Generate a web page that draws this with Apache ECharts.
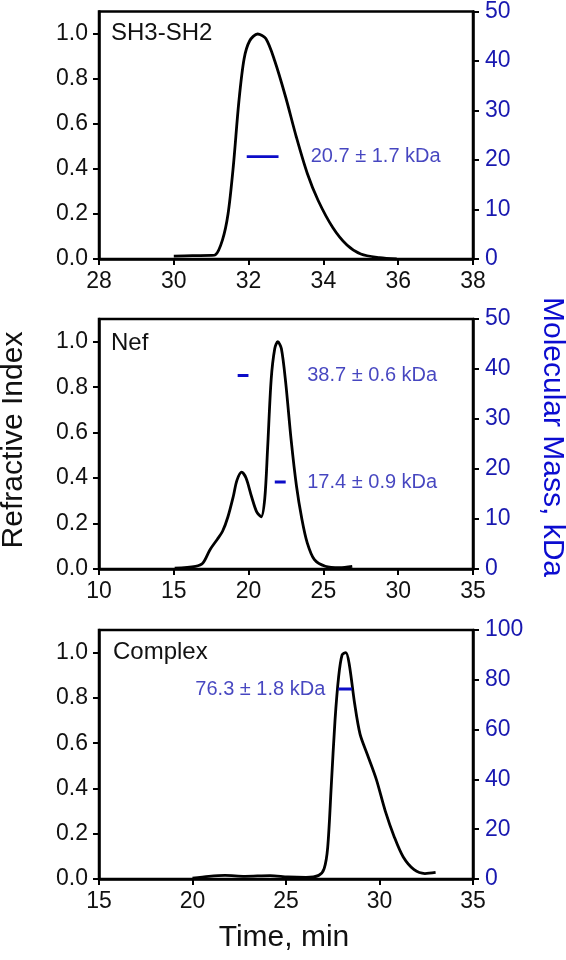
<!DOCTYPE html>
<html>
<head>
<meta charset="utf-8">
<script src="https://cdn.jsdelivr.net/npm/echarts@6/dist/echarts.min.js"></script>
<style>
html,body{margin:0;padding:0;background:#fff;}
#chart{width:566px;height:960px;}
</style>
</head>
<body>
<div id="chart"></div>
<script>
// ---- data ----
const sh3Time = [30.0, 30.5, 31.0, 31.11, 31.3, 31.45, 31.59, 31.74, 31.88, 32.03, 32.24, 32.46, 32.7, 32.99, 33.28, 33.57, 33.86, 34.25, 34.63, 35.0, 35.5, 35.96];
const sh3RI   = [0.013, 0.015, 0.016, 0.018, 0.084, 0.20, 0.41, 0.70, 0.89, 0.97, 1.0, 0.98, 0.88, 0.72, 0.54, 0.38, 0.26, 0.14, 0.062, 0.022, 0.006, 0.0];

const nefTime = [15.06, 16.45, 16.94, 17.42, 17.9, 18.26, 18.62, 18.98, 19.22, 19.54, 19.83, 20.19, 20.55, 20.84, 21.08, 21.27, 21.51, 21.75, 21.95, 22.19, 22.48, 22.84, 23.2, 23.56, 23.92, 24.4, 25.13, 26.09, 26.93];
const nefRI   = [0.004, 0.012, 0.026, 0.085, 0.13, 0.166, 0.23, 0.32, 0.39, 0.426, 0.40, 0.32, 0.25, 0.23, 0.31, 0.53, 0.835, 0.97, 1.0, 0.97, 0.82, 0.57, 0.365, 0.22, 0.115, 0.041, 0.012, 0.006, 0.012];

const cxTime = [20.0, 20.87, 21.74, 22.8, 24.15, 25.1, 26.07, 26.75, 27.04, 27.23, 27.42, 27.62, 27.81, 28.0, 28.2, 28.38, 28.67, 28.96, 29.35, 29.83, 30.31, 30.79, 31.27, 31.85, 32.43, 33.0];
const cxRI   = [0.004, 0.012, 0.016, 0.012, 0.015, 0.009, 0.007, 0.016, 0.046, 0.14, 0.41, 0.70, 0.89, 0.99, 1.0, 0.95, 0.775, 0.64, 0.55, 0.44, 0.30, 0.186, 0.097, 0.041, 0.024, 0.029];

// molecular mass bars: [tStart, tEnd], mass (kDa)
const sh3MassTime = [31.95, 32.8];   const sh3Mass = 20.7;
const nefMass1Time = [19.27, 19.99]; const nefMass1 = 38.7;
const nefMass2Time = [21.75, 22.48]; const nefMass2 = 17.4;
const cxMassTime = [27.8, 28.53];    const cxMass = 76.3;

const sh3Label = '20.7 ± 1.7 kDa';
const nefLabel1 = '38.7 ± 0.6 kDa';
const nefLabel2 = '17.4 ± 0.9 kDa';
const cxLabel = '76.3 ± 1.8 kDa';
// label anchor times
const sh3LabelT = 33.66, nefLabelT = 23.92, cxLabelT = 27.1;

const riTicks = [0, 0.2, 0.4, 0.6, 0.8, 1.0];
const panelNames = ['SH3-SH2', 'Nef', 'Complex'];

// ---- style ----
const FONT = '"Liberation Sans", Arial, sans-serif';
const BLUE = '#1818b0';
const BAR_BLUE = '#0c0cc8';

const zip = (a, b) => a.map((v, i) => [v, b[i]]);

const grids = [
  {left: 99, right: 93, top: 11, height: 248},
  {left: 99, right: 93, top: 319, height: 250},
  {left: 99, right: 93, top: 630, height: 249}
].map(g => Object.assign(g, {show: true, borderColor: '#000', borderWidth: 2.5, backgroundColor: 'transparent'}));

function xAx(gi, min, max, interval) {
  return {
    type: 'value', gridIndex: gi, min, max, interval,
    axisLine: {show: true, onZero: false, lineStyle: {color: '#000', width: 2.5}},
    axisTick: {show: true, length: 6, lineStyle: {color: '#000', width: 2}},
    axisLabel: {fontSize: 23, color: '#111', margin: 11, fontFamily: FONT},
    splitLine: {show: false}
  };
}
function yLeft(gi) {
  return {
    type: 'value', gridIndex: gi, min: 0, max: 1.1, position: 'left',
    axisLine: {show: true, onZero: false, lineStyle: {color: '#000', width: 2.5}},
    axisTick: {show: true, length: 6, customValues: riTicks, lineStyle: {color: '#000', width: 2}},
    axisLabel: {fontSize: 23, color: '#111', margin: 11, fontFamily: FONT, customValues: riTicks,
                formatter: v => v.toFixed(1)},
    splitLine: {show: false}
  };
}
function yRight(gi, max, interval) {
  return {
    type: 'value', gridIndex: gi, min: 0, max, interval, position: 'right',
    axisLine: {show: true, onZero: false, lineStyle: {color: '#000', width: 2.5}},
    axisTick: {show: true, length: 6, lineStyle: {color: '#000', width: 2}},
    axisLabel: {fontSize: 23, color: BLUE, margin: 12, fontFamily: FONT},
    splitLine: {show: false}
  };
}

function curve(xi, yi, t, v) {
  return {type: 'line', xAxisIndex: xi, yAxisIndex: yi, data: zip(t, v), smooth: 0.3,
          showSymbol: false, lineStyle: {color: '#000', width: 2.8}, silent: true, z: 3};
}
function massBar(xi, yi, t, m) {
  return {type: 'line', xAxisIndex: xi, yAxisIndex: yi, data: t.map(x => [x, m]),
          showSymbol: false, lineStyle: {color: BAR_BLUE, width: 2.8}, silent: true, z: 4};
}
function massText(xi, yi, t, m, text, pos) {
  return {type: 'scatter', xAxisIndex: xi, yAxisIndex: yi, data: [[t, m]], symbolSize: 0, silent: true,
          label: {show: true, position: pos, distance: 0, formatter: text, color: BLUE,
                  fontSize: 20, fontFamily: FONT}, z: 5};
}

const option = {
  animation: false,
  backgroundColor: '#fff',
  grid: grids,
  xAxis: [xAx(0, 28, 38, 2), xAx(1, 10, 35, 5), xAx(2, 15, 35, 5)],
  yAxis: [yLeft(0), yRight(0, 50, 10), yLeft(1), yRight(1, 50, 10), yLeft(2), yRight(2, 100, 20)],
  series: [
    curve(0, 0, sh3Time, sh3RI),
    massBar(0, 1, sh3MassTime, sh3Mass),
    massText(0, 1, sh3LabelT, sh3Mass, sh3Label, 'right'),
    curve(1, 2, nefTime, nefRI),
    massBar(1, 3, nefMass1Time, nefMass1),
    massBar(1, 3, nefMass2Time, nefMass2),
    massText(1, 3, nefLabelT, nefMass1, nefLabel1, 'right'),
    massText(1, 3, nefLabelT, nefMass2, nefLabel2, 'right'),
    curve(2, 4, cxTime, cxRI),
    massBar(2, 5, cxMassTime, cxMass),
    massText(2, 5, cxLabelT, cxMass, cxLabel, 'left')
  ],
  graphic: [
    {type: 'text', x: 111, y: 33, style: {text: panelNames[0], font: '24px ' + FONT, fill: '#111', textVerticalAlign: 'middle'}},
    {type: 'text', x: 111, y: 343, style: {text: panelNames[1], font: '24px ' + FONT, fill: '#111', textVerticalAlign: 'middle'}},
    {type: 'text', x: 113, y: 652, style: {text: panelNames[2], font: '24px ' + FONT, fill: '#111', textVerticalAlign: 'middle'}},
    {type: 'text', x: 14, y: 440, rotation: Math.PI / 2,
     style: {text: 'Refractive Index', font: '30px ' + FONT, fill: '#111', textAlign: 'center', textVerticalAlign: 'middle'}},
    {type: 'text', x: 552, y: 437, rotation: -Math.PI / 2,
     style: {text: 'Molecular Mass, kDa', font: '30px ' + FONT, fill: '#0c0cd0', textAlign: 'center', textVerticalAlign: 'middle'}},
    {type: 'text', x: 284, y: 938,
     style: {text: 'Time, min', font: '30px ' + FONT, fill: '#111', textAlign: 'center', textVerticalAlign: 'middle'}}
  ]
};

const chart = echarts.init(document.getElementById('chart'), null, {renderer: 'canvas'});
chart.setOption(option);
</script>
</body>
</html>
